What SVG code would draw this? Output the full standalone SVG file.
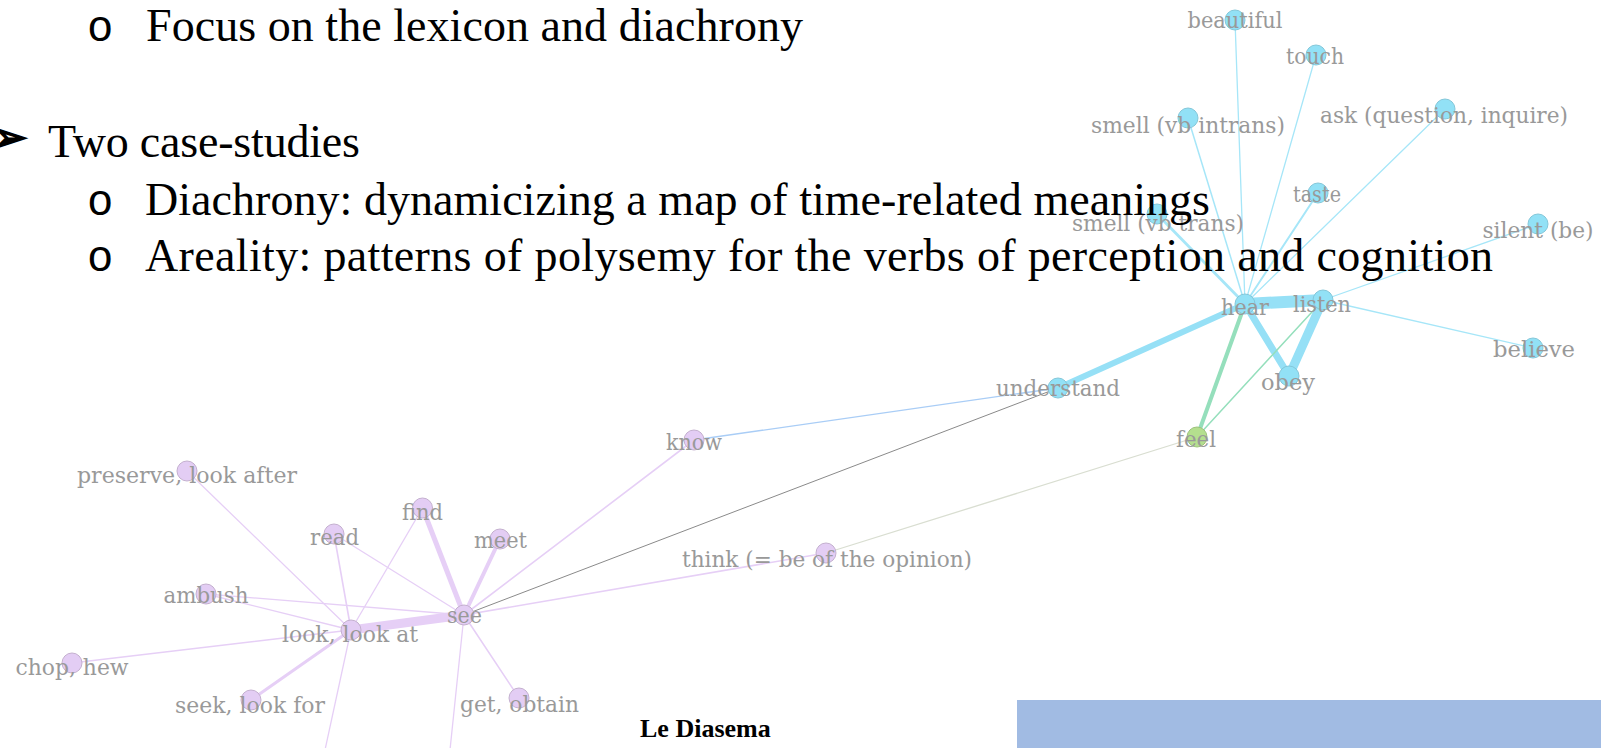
<svg xmlns="http://www.w3.org/2000/svg" width="1601" height="748" viewBox="0 0 1601 748">
<style>
.slide{font-family:"Liberation Serif","Times New Roman",serif;font-size:46px;fill:#000}
.bul{font-family:"Liberation Mono","Courier New",monospace;font-size:44px;fill:#000}
.lbl{font-family:"DejaVu Serif",serif;font-size:22px;fill:#999;text-anchor:middle}
.nc{fill:#92e1f6;stroke:#84c7d9;stroke-width:1}
.np{fill:#e3cdf4;stroke:#c4b0cf;stroke-width:1}
.ng{fill:#b4df8e;stroke:#9dc27c;stroke-width:1}
.ec{stroke:#a6e6f8;fill:none;stroke-linecap:round}
.et{stroke:#96e0f6;fill:none;stroke-linecap:round}
.eg{stroke:#95dfbc;fill:none;stroke-linecap:round}
.ep{stroke:#e6cff6;fill:none;stroke-linecap:round}
</style>
<rect width="1601" height="748" fill="#fff"/>
<g id="connectors">
<line class="ec" x1="1245" y1="304" x2="1235" y2="20" stroke-width="1.3"/>
<line class="ec" x1="1245" y1="304" x2="1316" y2="55" stroke-width="1.3"/>
<line class="ec" x1="1245" y1="304" x2="1188" y2="118" stroke-width="1.5"/>
<line class="ec" x1="1245" y1="304" x2="1445" y2="109" stroke-width="1.3"/>
<line class="ec" x1="1245" y1="304" x2="1318" y2="193" stroke-width="2"/>
<line class="ec" x1="1245" y1="304" x2="1157" y2="214" stroke-width="2.8"/>
<line class="ec" x1="1323" y1="300" x2="1538" y2="224" stroke-width="1.3"/>
<line class="ec" x1="1323" y1="300" x2="1533" y2="348" stroke-width="1.3"/>
<line class="et" x1="1245" y1="304" x2="1323" y2="300" stroke-width="12"/>
<line class="et" x1="1245" y1="304" x2="1058" y2="388" stroke-width="6"/>
<line class="et" x1="1245" y1="304" x2="1289" y2="376" stroke-width="7"/>
<line class="et" x1="1323" y1="300" x2="1289" y2="376" stroke-width="9"/>
<line class="eg" x1="1245" y1="304" x2="1197" y2="437" stroke-width="4"/>
<line class="eg" x1="1323" y1="300" x2="1197" y2="437" stroke-width="1.5"/>
<line x1="1058" y1="388" x2="694" y2="440" stroke="#a9cdf6" stroke-width="1.3"/>
<line x1="1058" y1="388" x2="464" y2="615" stroke="#8a8a8a" stroke-width="1"/>
<line x1="1197" y1="437" x2="826" y2="553" stroke="#d9ded1" stroke-width="1.3"/>
<line class="ep" x1="464" y1="615" x2="694" y2="440" stroke-width="1.6"/>
<line class="ep" x1="464" y1="615" x2="826" y2="553" stroke-width="1.6"/>
<line class="ep" x1="464" y1="615" x2="351" y2="630" stroke-width="9"/>
<line class="ep" x1="464" y1="615" x2="422.5" y2="508" stroke-width="5"/>
<line class="ep" x1="464" y1="615" x2="500" y2="539" stroke-width="4"/>
<line class="ep" x1="464" y1="615" x2="334" y2="534" stroke-width="1.3"/>
<line class="ep" x1="464" y1="615" x2="206" y2="594" stroke-width="1.3"/>
<line class="ep" x1="464" y1="615" x2="519" y2="698" stroke-width="1.6"/>
<line class="ep" x1="464" y1="615" x2="450" y2="750" stroke-width="1.3"/>
<line class="ep" x1="351" y1="630" x2="187" y2="471" stroke-width="1.3"/>
<line class="ep" x1="351" y1="630" x2="334" y2="534" stroke-width="1.6"/>
<line class="ep" x1="351" y1="630" x2="422.5" y2="508" stroke-width="1.3"/>
<line class="ep" x1="351" y1="630" x2="206" y2="594" stroke-width="1.3"/>
<line class="ep" x1="351" y1="630" x2="72" y2="663" stroke-width="1.3"/>
<line class="ep" x1="351" y1="630" x2="251" y2="700" stroke-width="3"/>
<line class="ep" x1="351" y1="630" x2="325" y2="750" stroke-width="1.3"/>
</g>
<g id="node-beautiful"><circle class="nc" cx="1235" cy="20" r="10"/><text class="lbl" x="1235" y="28" textLength="95" lengthAdjust="spacingAndGlyphs">beautiful</text></g>
<g id="node-touch"><circle class="nc" cx="1316" cy="55" r="10"/><text class="lbl" x="1315" y="64" textLength="58" lengthAdjust="spacingAndGlyphs">touch</text></g>
<g id="node-smell-intrans"><circle class="nc" cx="1188" cy="118" r="10"/><text class="lbl" x="1188" y="133" textLength="194" lengthAdjust="spacingAndGlyphs">smell (vb intrans)</text></g>
<g id="node-ask"><circle class="nc" cx="1445" cy="109" r="10"/><text class="lbl" x="1444" y="123" textLength="248" lengthAdjust="spacingAndGlyphs">ask (question, inquire)</text></g>
<g id="node-taste"><circle class="nc" cx="1318" cy="193" r="10"/><text class="lbl" x="1317" y="202" textLength="48" lengthAdjust="spacingAndGlyphs">taste</text></g>
<g id="node-smell-trans"><circle class="nc" cx="1157" cy="214" r="10"/><text class="lbl" x="1158" y="231" textLength="172" lengthAdjust="spacingAndGlyphs">smell (vb trans)</text></g>
<g id="node-silent"><circle class="nc" cx="1538" cy="224" r="10"/><text class="lbl" x="1538" y="238" textLength="111" lengthAdjust="spacingAndGlyphs">silent (be)</text></g>
<g id="node-hear"><circle class="nc" cx="1245" cy="304" r="10"/><text class="lbl" x="1245" y="315" textLength="48" lengthAdjust="spacingAndGlyphs">hear</text></g>
<g id="node-listen"><circle class="nc" cx="1323" cy="300" r="10"/><text class="lbl" x="1322" y="312" textLength="58" lengthAdjust="spacingAndGlyphs">listen</text></g>
<g id="node-believe"><circle class="nc" cx="1533" cy="348" r="10"/><text class="lbl" x="1534" y="357" textLength="82" lengthAdjust="spacingAndGlyphs">believe</text></g>
<g id="node-understand"><circle class="nc" cx="1058" cy="388" r="10"/><text class="lbl" x="1058" y="396" textLength="124" lengthAdjust="spacingAndGlyphs">understand</text></g>
<g id="node-obey"><circle class="nc" cx="1289" cy="376" r="10"/><text class="lbl" x="1288" y="390" textLength="54" lengthAdjust="spacingAndGlyphs">obey</text></g>
<g id="node-feel"><circle class="ng" cx="1197" cy="437" r="10"/><text class="lbl" x="1196" y="447" textLength="40" lengthAdjust="spacingAndGlyphs">feel</text></g>
<g id="node-know"><circle class="np" cx="694" cy="440" r="10"/><text class="lbl" x="694" y="450" textLength="56" lengthAdjust="spacingAndGlyphs">know</text></g>
<g id="node-think"><circle class="np" cx="826" cy="553" r="10"/><text class="lbl" x="827" y="567" textLength="290" lengthAdjust="spacingAndGlyphs">think (= be of the opinion)</text></g>
<g id="node-preserve"><circle class="np" cx="187" cy="471" r="10"/><text class="lbl" x="187" y="483" textLength="220" lengthAdjust="spacingAndGlyphs">preserve, look after</text></g>
<g id="node-find"><circle class="np" cx="422.5" cy="508" r="10"/><text class="lbl" x="422.5" y="520" textLength="41" lengthAdjust="spacingAndGlyphs">find</text></g>
<g id="node-read"><circle class="np" cx="334" cy="534" r="10"/><text class="lbl" x="334.5" y="545" textLength="49" lengthAdjust="spacingAndGlyphs">read</text></g>
<g id="node-meet"><circle class="np" cx="500" cy="539" r="10"/><text class="lbl" x="500.5" y="548" textLength="53" lengthAdjust="spacingAndGlyphs">meet</text></g>
<g id="node-ambush"><circle class="np" cx="206" cy="594" r="10"/><text class="lbl" x="206" y="603" textLength="85" lengthAdjust="spacingAndGlyphs">ambush</text></g>
<g id="node-see"><circle class="np" cx="464" cy="615" r="10"/><text class="lbl" x="464.5" y="623" textLength="35" lengthAdjust="spacingAndGlyphs">see</text></g>
<g id="node-look"><circle class="np" cx="351" cy="630" r="10"/><text class="lbl" x="350" y="642" textLength="136" lengthAdjust="spacingAndGlyphs">look, look at</text></g>
<g id="node-chop"><circle class="np" cx="72" cy="663" r="10"/><text class="lbl" x="72" y="675" textLength="113" lengthAdjust="spacingAndGlyphs">chop, hew</text></g>
<g id="node-seek"><circle class="np" cx="251" cy="700" r="10"/><text class="lbl" x="250" y="713" textLength="150" lengthAdjust="spacingAndGlyphs">seek, look for</text></g>
<g id="node-get"><circle class="np" cx="519" cy="698" r="10"/><text class="lbl" x="519.5" y="712" textLength="119" lengthAdjust="spacingAndGlyphs">get, obtain</text></g>
<g id="slide-text">
<text class="bul" x="87" y="41">o</text>
<text class="slide" x="146" y="41" textLength="657" lengthAdjust="spacing">Focus on the lexicon and diachrony</text>
<text x="-9" y="152" style="font-family:'DejaVu Sans',sans-serif;font-size:44px;fill:#000;stroke:#000;stroke-width:1.6">➢</text>
<text class="slide" x="48" y="157" textLength="312" lengthAdjust="spacing">Two case-studies</text>
<text class="bul" x="87" y="215">o</text>
<text class="slide" x="145" y="215" textLength="1065" lengthAdjust="spacing">Diachrony: dynamicizing a map of time-related meanings</text>
<text class="bul" x="87" y="271">o</text>
<text class="slide" x="145" y="271" textLength="1348" lengthAdjust="spacing">Areality: patterns of polysemy for the verbs of perception and cognition</text>
</g>
<text x="640" y="737" style="font-family:'Liberation Serif','Times New Roman',serif;font-size:26px;font-weight:bold;fill:#000">Le Diasema</text>
<rect x="1017" y="700" width="584" height="48" fill="#a1bbe3"/>
</svg>
